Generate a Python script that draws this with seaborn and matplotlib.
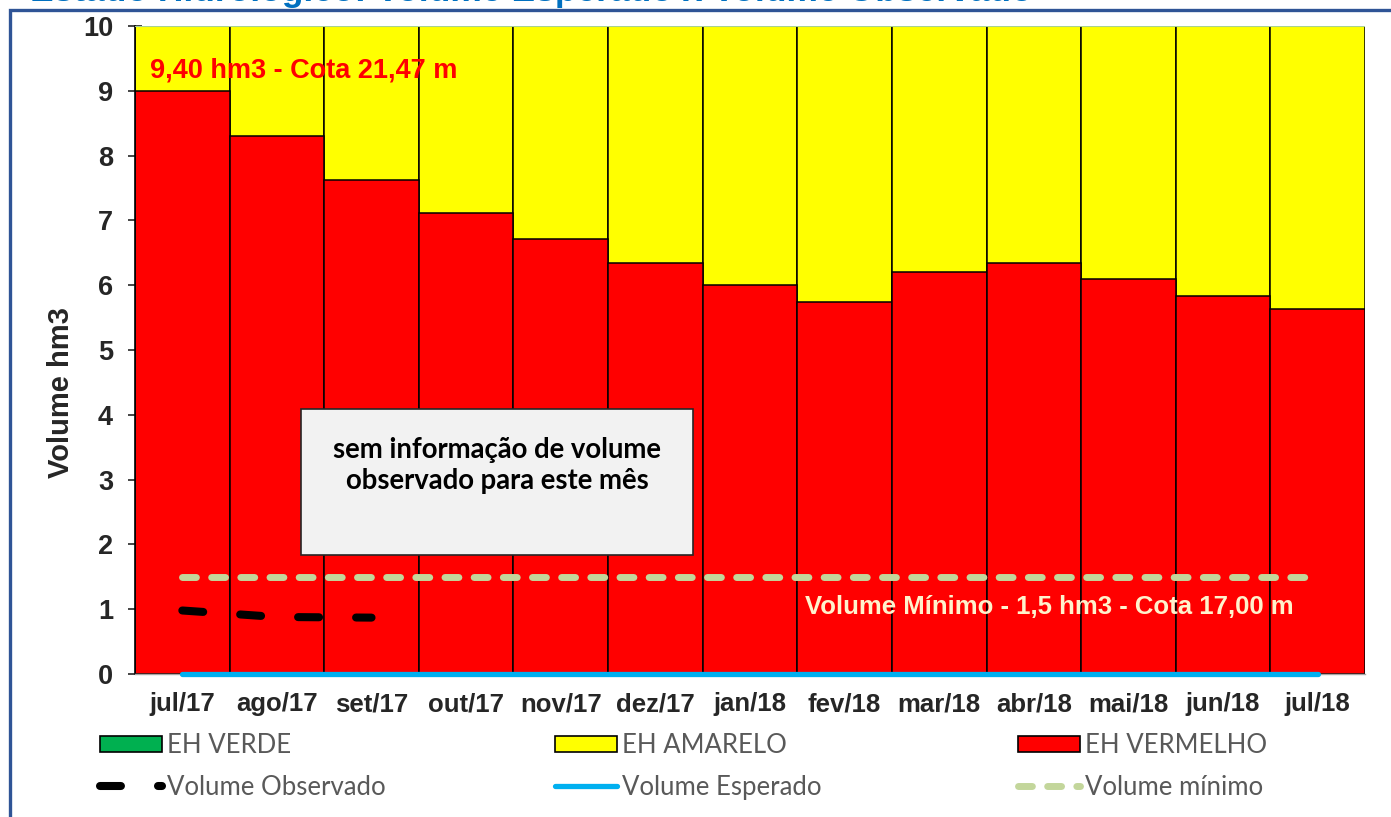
import matplotlib
matplotlib.use("Agg")
import matplotlib.pyplot as plt
from matplotlib.patches import Patch, Rectangle
from matplotlib.lines import Line2D
import seaborn as sns

# dados
meses = ['jul/17', 'ago/17', 'set/17', 'out/17', 'nov/17', 'dez/17', 'jan/18',
         'fev/18', 'mar/18', 'abr/18', 'mai/18', 'jun/18', 'jul/18']
eh_vermelho = [9.00, 8.30, 7.62, 7.11, 6.71, 6.34, 6.00, 5.74, 6.20, 6.34, 6.10, 5.83, 5.63]
eh_amarelo_topo = [10] * 13
vol_observado = [0.98, 0.88, 0.87]
vol_esperado = [0] * 13
vol_minimo = [1.5] * 13

VERDE = '#00B050'
AMARELO = '#FFFF00'
VERMELHO = '#FF0000'
AZUL = '#00B0F0'
MINIMO = '#C3D69B'
DASH_OBS = (0, (2.6, 4.6))
DASH_MIN = (0, (2.0, 2.2))

sns.set_style('white')
plt.rcParams['font.family'] = ['Liberation Sans', 'DejaVu Sans']

fig = plt.figure(figsize=(13.91, 8.17), dpi=100)
ax = fig.add_axes([135 / 1391, 1 - 674 / 817, 1230 / 1391, 648 / 817])

# barras empilhadas: amarelo até o topo, vermelho por cima
sns.barplot(x=meses, y=eh_amarelo_topo, color=AMARELO, saturation=1, width=1,
            edgecolor='black', linewidth=1.1, ax=ax)
sns.barplot(x=meses, y=eh_vermelho, color=VERMELHO, saturation=1, width=1,
            edgecolor='black', linewidth=1.1, ax=ax)
ax.axhline(10, color='#A9D18E', lw=1.5, zorder=5)

# linhas
sns.lineplot(x=meses, y=vol_minimo, sort=False, color=MINIMO, lw=5,
             linestyle=DASH_MIN, dash_capstyle='round', ax=ax, zorder=6)
sns.lineplot(x=meses, y=vol_esperado, sort=False, color=AZUL, lw=3.8,
             solid_capstyle='round', ax=ax, zorder=6, clip_on=False)
sns.lineplot(x=meses[:3], y=vol_observado, sort=False, color='black', lw=5.8,
             linestyle=DASH_OBS, dash_capstyle='round', ax=ax, zorder=6)

ax.set_ylim(0, 10)
ax.set_xlim(-0.5, 12.5)
ax.set_yticks(range(0, 11))
ax.set_ylabel('Volume hm3', fontsize=21, fontweight='bold')
ax.yaxis.set_label_coords(-0.049, 0.434)
ax.set_xlabel('')
ax.tick_params(axis='y', direction='inout', length=9.5, width=1.2, pad=11,
               labelsize=19.5, left=True)
ax.tick_params(axis='x', length=0, pad=13, labelsize=18.5)
for lab in ax.get_xticklabels() + ax.get_yticklabels():
    lab.set_fontweight('bold')
for s in ['top', 'right']:
    ax.spines[s].set_visible(False)
ax.spines['left'].set_color('black')
ax.spines['left'].set_linewidth(1.2)
ax.spines['bottom'].set_color('#A6A6A6')
ax.spines['bottom'].set_linewidth(1)

# anotações
ax.text(-0.34, 9.32, '9,40 hm3 - Cota 21,47 m', color=VERMELHO, fontsize=19.5,
        fontweight='bold', va='center', ha='left', zorder=7)
ax.text(6.58, 1.03, 'Volume Mínimo - 1,5 hm3 - Cota 17,00 m', color='#FFF2CC',
        fontsize=18.5, fontweight='bold', va='center', ha='left', zorder=7)
ax.add_patch(Rectangle((1.255, 1.84), 4.145, 2.25, facecolor='#F2F2F2',
                       edgecolor='#262626', lw=1.2, zorder=8))
ax.text(3.33, 3.22, 'sem informação de volume\nobservado para este mês',
        ha='center', va='center', fontsize=19.8, fontweight='bold', family='Lato',
        linespacing=1.25, color='black', zorder=9)

# título (cortado no topo, como no original)
fig.text(30 / 1391, 1 - 1 / 817, 'Estado Hidrológico: Volume Esperado x Volume Observado',
         color='#0070C0', fontsize=25.5, fontweight='bold', va='baseline', ha='left')

# moldura
fig.add_artist(Rectangle((10 / 1391, -0.1), 1.2, 1.1 - 10 / 817, transform=fig.transFigure,
                         fill=False, edgecolor='#2F5496', lw=2.4, clip_on=False))

# legenda em três colunas
leg_kw = dict(loc='upper left', frameon=False, borderpad=0, borderaxespad=0,
              handlelength=2.41, handleheight=0.62, handletextpad=0.2,
              labelspacing=0.65, prop={'family': 'Lato', 'size': 18.5},
              labelcolor='#595959')
colunas = [
    (100, [Patch(facecolor=VERDE, edgecolor='black', lw=1.2),
           Line2D([], [], color='black', lw=5.8, linestyle=DASH_OBS,
                  dash_capstyle='round')],
     ['EH VERDE', 'Volume Observado']),
    (555, [Patch(facecolor=AMARELO, edgecolor='black', lw=1.2),
           Line2D([], [], color=AZUL, lw=3.8, solid_capstyle='round')],
     ['EH AMARELO', 'Volume Esperado']),
    (1018, [Patch(facecolor=VERMELHO, edgecolor='black', lw=1.2),
            Line2D([], [], color=MINIMO, lw=5, linestyle=DASH_MIN,
                   dash_capstyle='round')],
     ['EH VERMELHO', 'Volume mínimo']),
]
for x0, hs, ls in colunas:
    fig.legend(hs, ls, bbox_to_anchor=(x0 / 1391, 1 - 733 / 817), **leg_kw)

fig.savefig('out.png', dpi=100)
